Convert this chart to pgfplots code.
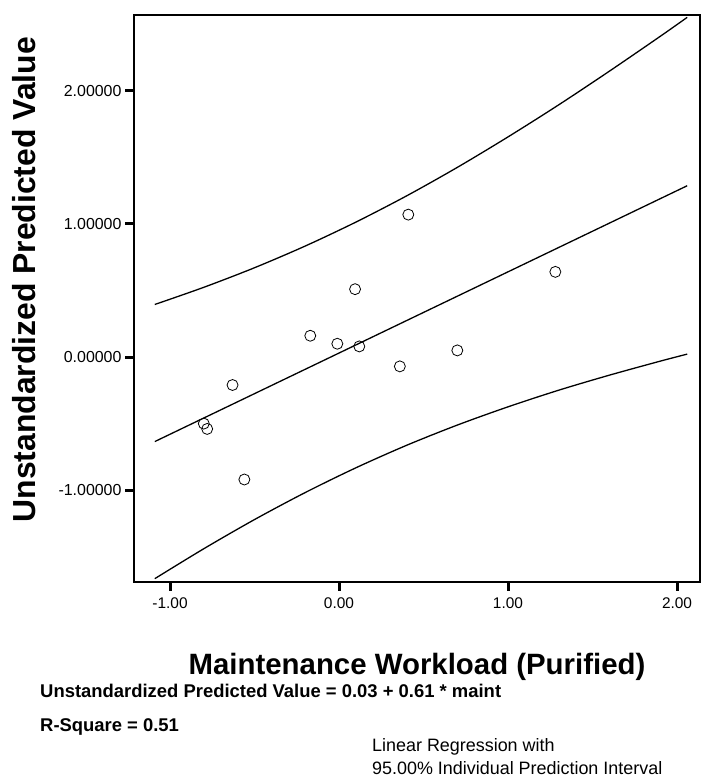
\documentclass[border=0pt]{standalone}
\usepackage{pgfplots}
\pgfplotsset{compat=1.18}
\usepackage{fontspec}
\setmainfont{Liberation Sans}
\begin{document}
\begin{tikzpicture}[x=1bp,y=1bp]
\useasboundingbox (0,0) rectangle (713,778);
\begin{axis}[
  at={(134bp,196bp)}, anchor=south west,
  scale only axis, width=566bp, height=567bp,
  xmin=-1.213, xmax=2.136, ymin=-1.69, ymax=2.57,
  xtick={-1,0,1,2}, xticklabels={-1.00,0.00,1.00,2.00},
  ytick={-1,0,1,2}, yticklabels={-1.00000,0.00000,1.00000,2.00000},
  tick align=outside, major tick length=9bp,
  xtick pos=bottom, ytick pos=left,
  every tick/.append style={line width=3bp, black},
  every major tick/.append style={line width=3bp, black},
  axis line style={line width=1.2bp},
  xticklabel style={font=\fontsize{15.5}{16}\selectfont, yshift=-3bp},
  yticklabel style={font=\fontsize{16}{16}\selectfont},
  xlabel={\bfseries Maintenance Workload (Purified)},
  xlabel style={font=\fontsize{29.5}{31}\selectfont, at={(axis description cs:0.5,0)}, anchor=base, yshift=-93bp},
  ylabel={\bfseries Unstandardized Predicted Value},
  ylabel style={font=\fontsize{32}{33}\selectfont, at={(axis description cs:-0.194,0.533)}, anchor=center},
  clip=false,
]
% prediction interval upper
\addplot[black, line width=1.3bp, smooth] coordinates {
(-1.09,0.395) (-0.8,0.524) (-0.5,0.671) (-0.2,0.834) (0.1,1.014) (0.4,1.211)
(0.7,1.425) (1.0,1.654) (1.3,1.895) (1.6,2.148) (1.9,2.409) (2.06,2.552)};
% fit line
\addplot[black, line width=1.3bp] coordinates {(-1.09,-0.635) (2.06,1.287)};
% prediction interval lower
\addplot[black, line width=1.3bp, smooth] coordinates {
(-1.09,-1.665) (-0.8,-1.440) (-0.5,-1.221) (-0.2,-1.018) (0.1,-0.832) (0.4,-0.663)
(0.7,-0.511) (1.0,-0.374) (1.3,-0.249) (1.6,-0.136) (1.9,-0.031) (2.06,0.022)};
% observations
\addplot[only marks, mark=o, mark size=5.5bp, mark options={black, line width=0.8bp}] coordinates {
(0.41,1.07) (1.28,0.64) (0.095,0.51) (-0.17,0.16) (-0.01,0.10) (0.12,0.08)
(0.70,0.05) (0.36,-0.07) (-0.63,-0.21) (-0.80,-0.50) (-0.78,-0.54) (-0.56,-0.92)};
\end{axis}
\node[anchor=base west, inner sep=0pt, font=\bfseries\fontsize{18.5}{20}\selectfont] at (40,80) {Unstandardized Predicted Value = 0.03 + 0.61 * maint};
\node[anchor=base west, inner sep=0pt, font=\bfseries\fontsize{18.5}{20}\selectfont] at (40,46) {R-Square = 0.51};
\node[anchor=base west, inner sep=0pt, font=\fontsize{18}{20}\selectfont] at (372,26) {Linear Regression with};
\node[anchor=base west, inner sep=0pt, font=\fontsize{18}{20}\selectfont] at (372,3) {95.00\% Individual Prediction Interval};
\end{tikzpicture}
\end{document}
